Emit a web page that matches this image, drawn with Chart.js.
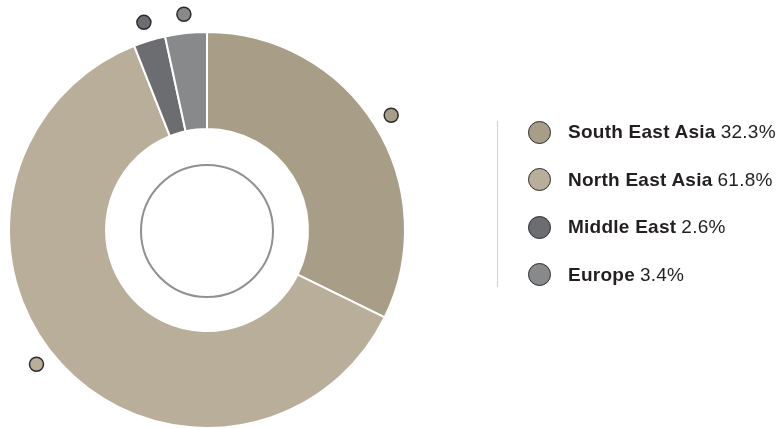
<!DOCTYPE html>
<html>
<head>
<meta charset="utf-8">
<script src="https://cdn.jsdelivr.net/npm/chart.js@4/dist/chart.umd.min.js"></script>
<style>
  html, body { margin: 0; padding: 0; background: #ffffff; }
  #wrap { position: relative; width: 780px; height: 428px; overflow: hidden; }
  #c { position: absolute; left: 0; top: 0; }
  #divider { position: absolute; left: 497px; top: 121px; width: 1px; height: 166px; background: #cfcfcf; }
  #legend { position: absolute; left: 528px; top: 108.5px; font-family: "Liberation Sans", Arial, sans-serif; font-size: 19px; letter-spacing: 0.25px; color: #231f20; }
  .row { height: 47.5px; display: flex; align-items: center; white-space: nowrap; }
  .sw { width: 21px; height: 21px; border-radius: 50%; border: 1.5px solid #2b2b2b; margin-right: 17px; flex: none; }
  .lab { font-weight: bold; margin-right: 5px; }
</style>
</head>
<body>
<div id="wrap">
  <canvas id="c" width="780" height="432"></canvas>
  <div id="divider"></div>
  <div id="legend"></div>
</div>
<script>
const categories = ["South East Asia", "North East Asia", "Middle East", "Europe"];
const shares = [32.3, 61.8, 2.6, 3.4];
const shareLabels = ["32.3%", "61.8%", "2.6%", "3.4%"];
const sliceColors = ["#a89d86", "#b9ae9a", "#6c6d70", "#88898b"];
// small angular nudge (degrees) for each outside marker dot, styling only
const markerNudgeDeg = [0, 4.5, 0, 0];

// HTML legend
const legend = document.getElementById('legend');
categories.forEach((name, i) => {
  const row = document.createElement('div');
  row.className = 'row';
  const sw = document.createElement('span');
  sw.className = 'sw';
  sw.style.background = sliceColors[i];
  const lab = document.createElement('span');
  lab.className = 'lab';
  lab.textContent = name;
  const val = document.createElement('span');
  val.textContent = shareLabels[i];
  row.appendChild(sw); row.appendChild(lab); row.appendChild(val);
  legend.appendChild(row);
});

const decorPlugin = {
  id: 'decor',
  afterDatasetsDraw(chart) {
    const ctx = chart.ctx;
    const meta = chart.getDatasetMeta(0);
    if (!meta.data.length) return;
    const first = meta.data[0];
    const cx = first.x, cy = first.y;
    ctx.save();
    // inner ring
    ctx.beginPath();
    ctx.arc(cx, cy + 1, 66, 0, Math.PI * 2);
    ctx.strokeStyle = '#909093';
    ctx.lineWidth = 2;
    ctx.stroke();
    // marker dots outside each slice
    meta.data.forEach((arc, i) => {
      const mid = (arc.startAngle + arc.endAngle) / 2 + markerNudgeDeg[i] * Math.PI / 180;
      const r = arc.outerRadius + 19;
      const x = cx + Math.cos(mid) * r;
      const y = cy + Math.sin(mid) * r;
      ctx.beginPath();
      ctx.arc(x, y, 7, 0, Math.PI * 2);
      ctx.fillStyle = sliceColors[i];
      ctx.fill();
      ctx.lineWidth = 1.5;
      ctx.strokeStyle = '#2b2b2b';
      ctx.stroke();
    });
    ctx.restore();
  }
};

new Chart(document.getElementById('c'), {
  type: 'doughnut',
  data: {
    labels: categories,
    datasets: [{
      data: shares,
      backgroundColor: sliceColors,
      borderColor: '#ffffff',
      borderWidth: 2,
      hoverOffset: 0
    }]
  },
  options: {
    responsive: false,
    animation: false,
    cutout: '51%',
    layout: { padding: { left: 8, right: 374, top: 31, bottom: 3 } },
    plugins: { legend: { display: false }, tooltip: { enabled: false } }
  },
  plugins: [decorPlugin]
});
</script>
</body>
</html>
